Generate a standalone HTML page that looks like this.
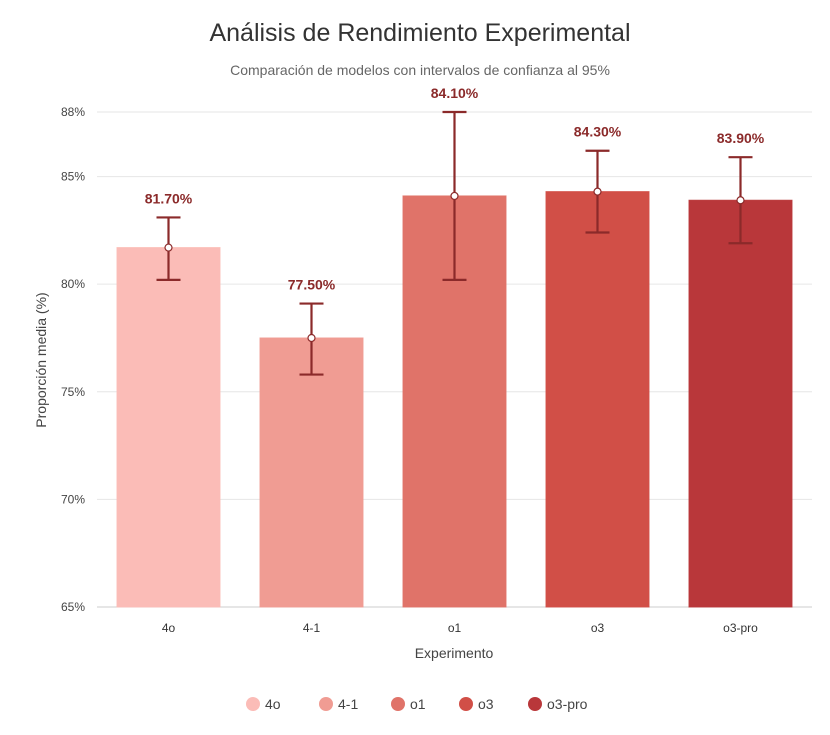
<!DOCTYPE html>
<html><head><meta charset="utf-8"><style>
body{margin:0;background:#fff;font-family:"Liberation Sans",sans-serif;}
svg text{font-family:"Liberation Sans",sans-serif;}
</style></head><body>
<svg id="chart" width="830" height="730">
<text x="420" y="41" text-anchor="middle" font-size="25" fill="#333">Análisis de Rendimiento Experimental</text>
<text x="420" y="75" text-anchor="middle" font-size="14" fill="#666">Comparación de modelos con intervalos de confianza al 95%</text>
<g id="grid"></g><g id="bars"></g><g id="errs"></g>
<text transform="translate(46,360) rotate(-90)" text-anchor="middle" font-size="14" fill="#444">Proporción media (%)</text>
<text x="454" y="658" text-anchor="middle" font-size="14" fill="#444">Experimento</text>
<g id="legend"></g>
</svg>
<script>
const categories=["4o","4-1","o1","o3","o3-pro"];
const means=[81.7,77.5,84.1,84.3,83.9];
const lower=[80.2,75.8,80.2,82.4,81.9];
const upper=[83.1,79.1,88.0,86.2,85.9];
const yTicks=[65,70,75,80,85,88];
const colors=["#fbbcb7","#f09c93","#e07369","#d14f47","#b9373a"];
const NS="http://www.w3.org/2000/svg";
const L=97,R=812,T=112,B=607,ymin=65,ymax=88;
const y=v=>B-(v-ymin)/(ymax-ymin)*(B-T);
const step=(R-L)/categories.length;
const x=i=>L+step*(i+0.5);
const bw=103;
function mk(tag,attrs,parent,txt){const e=document.createElementNS(NS,tag);for(const k in attrs)e.setAttribute(k,attrs[k]);if(txt!==undefined)e.textContent=txt;document.getElementById(parent).appendChild(e);return e;}
yTicks.forEach(t=>{
  const l=mk('line',{x1:L,x2:R,y1:y(t),y2:y(t),stroke:t===65?'#ccc':'#e6e6e6','stroke-width':1},'grid');
  
  
  const tx=mk('text',{x:L-12,y:y(t)+4,'text-anchor':'end','font-size':12,fill:'#444'},'grid',t+'%');
  
  
});
categories.forEach((c,i)=>{
  const cx=x(i);
  const r=mk('rect',{x:cx-bw/2,y:y(means[i]),width:bw,height:B-y(means[i]),fill:colors[i],stroke:colors[i],'stroke-opacity':0.9},'bars');
  
  
  const tl=mk('text',{x:cx,y:B+25,'text-anchor':'middle','font-size':12,fill:'#333'},'bars',c);
  
  
  const g=mk('g',{stroke:'#8b2a2a','stroke-width':2.2},'errs');
  
  
  [[cx,cx,y(lower[i]),y(upper[i])],[cx-12,cx+12,y(upper[i]),y(upper[i])],[cx-12,cx+12,y(lower[i]),y(lower[i])]].forEach(a=>{
    const ln=document.createElementNS(NS,'line');ln.setAttribute('x1',a[0]);ln.setAttribute('x2',a[1]);ln.setAttribute('y1',a[2]);ln.setAttribute('y2',a[3]);g.appendChild(ln);
  });
  const dot=mk('circle',{cx:cx,cy:y(means[i]),r:3.5,fill:'#fff',stroke:'#8b2a2a','stroke-width':1.2},'errs');
  
  
  const v=mk('text',{x:cx,y:y(upper[i])-14,'text-anchor':'middle','font-size':14,'font-weight':'bold',fill:'#8b2a2a'},'errs',means[i].toFixed(2)+'%');
  
  
});
const lx=[253,326,398,466,535];
categories.forEach((c,i)=>{
  const g=mk('g',{},'legend');
  
  
  const ci=document.createElementNS(NS,'circle');ci.setAttribute('cx',lx[i]);ci.setAttribute('cy',704);ci.setAttribute('r',7);ci.setAttribute('fill',colors[i]);g.appendChild(ci);
  const t=document.createElementNS(NS,'text');t.setAttribute('x',lx[i]+12);t.setAttribute('y',709);t.setAttribute('font-size',14);t.setAttribute('fill','#444');t.textContent=c;g.appendChild(t);
});
</script>
</body></html>
